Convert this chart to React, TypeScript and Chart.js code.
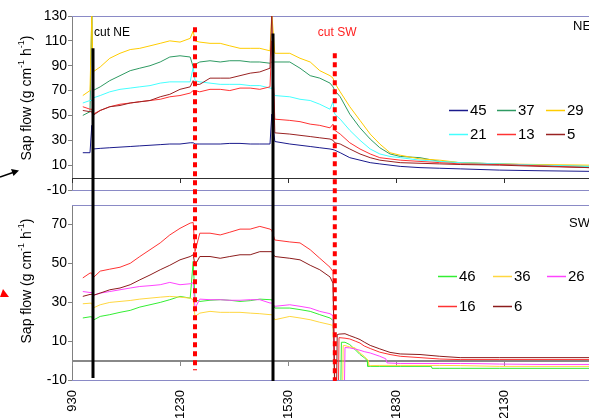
import React, { useEffect, useRef } from 'react';
import { Chart, registerables } from 'chart.js';
Chart.register(...registerables);

const FONT = "'Liberation Sans', Arial, sans-serif";

// ---- time of day (hhmm) ----
const timesNE = [948, 1000, 1003, 1005, 1017, 1033, 1050, 1107, 1123, 1140, 1157, 1213, 1230, 1247, 1252, 1255, 1303, 1320, 1337, 1353, 1410, 1427, 1443, 1500, 1503, 1508, 1533, 1550, 1607, 1623, 1640, 1645, 1648, 1657, 1713, 1730, 1747, 1803, 1820, 1837, 1910, 1943, 2017, 2123, 2230, 2352];

// ---- NE sensors (sap flow, g cm-1 h-1) ----
const ne45 = [20, 20, 42, 23, 23.5, 24, 24.5, 25, 25.5, 26, 26.5, 27, 27, 28, 28, 27, 27, 27, 27, 27.5, 27.5, 27, 27, 27, 51, 29, 27, 26, 25, 24, 23, 22.5, 22, 20, 16, 14, 12, 11, 10, 9, 8, 7.5, 7, 6, 5.5, 5];
const ne37 = [50, 53, 132, 70, 73, 78, 82, 86, 88, 90, 93, 97, 98, 97, 89, 91, 93, 94, 93, 94, 94, 93, 93, 92, 93, 93, 93, 88, 82, 80, 76, 73, 70, 65, 51, 40, 31, 24, 19, 17, 16, 13, 12, 11, 10, 9];
const ne29 = [66, 70, 132, 85, 89, 96, 100, 103, 104, 106, 108, 110, 109, 112, 118, 110, 109, 108, 108, 106, 104, 104, 104, 102, 132, 100, 100, 96, 93, 86, 82, 80, 76, 69, 57, 46, 35, 27, 20, 18, 15, 14, 12, 11, 10.5, 10];
const ne21 = [60, 62, 62, 64, 66, 69, 71, 72, 73, 74, 76, 77, 77, 77, 89, 78, 77, 76, 75, 75, 75, 74, 74, 72, 72, 66, 65, 63, 62, 59, 55, 61, 51, 47, 38, 30, 23, 19, 17, 16, 14, 13, 12, 11, 10, 9];
const ne13 = [57, 55, 55, 51, 54, 57, 59, 60, 61, 62, 63, 65, 66, 68, 70, 70, 69, 71, 71, 70, 72, 72, 71, 73, 110, 47, 46, 45, 43, 42, 40, 43, 38, 35, 28, 23, 19, 16, 15, 14, 13, 12, 11, 10.5, 9.5, 8];
const ne5 = [54, 53, 53, 50, 54, 57, 58, 60, 61, 62, 65, 67, 71, 73, 78, 75, 75, 80, 80, 80, 82, 84, 85, 88, 132, 36, 35, 34, 33, 32, 31, 30, 28, 27, 23, 19, 16, 14, 13, 12, 11.5, 11, 10.5, 10, 9, 8];
const neSeries = [ne45, ne37, ne29, ne21, ne13, ne5];
const neLabels = ['45', '37', '29', '21', '13', '5'];
const neColors = ['#1a1a8c', '#2e9a62', '#ffcc00', '#44ffff', '#ff3333', '#992222'];

// ---- SW sensors ----
const timesSW = [948, 1000, 1003, 1005, 1017, 1033, 1050, 1107, 1123, 1140, 1157, 1213, 1230, 1247, 1252, 1255, 1303, 1320, 1337, 1353, 1410, 1427, 1443, 1500, 1503, 1508, 1533, 1550, 1607, 1623, 1640, 1645,
  1648, 1651, 1652, 1654, 1655, 1658, 1659, 1701, 1702, 1704, 1705, 1713, 1722, 1730, 1737, 1742, 1743, 1744, 1745, 1747, 1803, 1813, 1815, 1820, 1837, 1910, 1929, 1930, 1943, 2017, 2050, 2123, 2230, 2352];
const sw46 = [21.9, 22.5, 22.5, 20.7, 22.7, 23.6, 24.8, 25.8, 27.5, 28.7, 29.9, 31.3, 33, 32.1, 51, 31.3, 30.4, 31, 31.3, 31, 30.4, 30.8, 31.6, 31.3, 31.3, 27, 27, 26.2, 25.3, 23.6, 21.9, 20.7,
  -15, null, null, null, null, -15, 9.4, null, null, null, 9.4, 8.2, 5.6, 3.1, 1.5, 0, -3, null, null, -3, -3, null, null, -3, -3, -3, -3, -4, -4, -4, -4, -4, -4, -4];
const sw36 = [29.2, 29.5, 29.5, 27, 28.7, 29.9, 30.4, 30.9, 31.6, 32.1, 32.6, 33, 32.6, 32.1, 31.3, 22.7, 24.4, 25.3, 24.8, 24.8, 24.8, 24.4, 24.1, 23.6, 23.6, 21, 22.7, 21.9, 21, 19.7, 18.5, 18,
  -15, null, null, null, null, null, null, -15, 7.7, null, 7.7, 7, 6.5, 3.9, 2.2, null, null, 0, -2.6, -2.6, -2.5, null, null, -2.5, -2.5, -2.5, null, null, -2.5, -2.6, -2.8, -3, -3, -3];
const sw26 = [35.5, 35, 35, 33.5, 34.7, 35.5, 36.4, 37.3, 38.1, 38.5, 39, 40.2, 39, 39.5, 40, 27, 31.6, 31.3, 31.3, 31, 31, 31.3, 31.3, 29.6, 29.6, 27.9, 28.7, 27.9, 27, 25.3, 24.1, 23,
  -15, null, null, null, null, null, null, null, null, -15, 6.7, 6.5, 5.9, 5.3, 4.6, null, null, null, null, 3.9, 2.2, 0.9, -1.2, -1.3, -1.5, -1.5, null, null, -1.5, -1.5, -1.6, -1.8, -2, -2];
const sw16 = [42.5, 45, 45, 42.5, 46, 47, 48, 50, 53.5, 57, 60.5, 64.6, 68, 70.7, 71, 56, 65.5, 65.5, 64.6, 66, 67.6, 67.6, 69, 67.6, 67, 62, 61, 60.5, 57, 52.6, 48, 45.8,
  -15, null, null, -15, 11.8, null, null, null, null, null, 11.5, 11.1, 10, 9, 7.5, null, null, null, null, 6.2, 4.3, null, null, 3.1, 2.2, 1.5, null, null, 0.8, 0.5, 0.5, 0.5, 0.5, 0.5];
const sw6 = [33, 34, 34, 33.5, 34.7, 36.4, 37.3, 39, 41.5, 44, 46.7, 49, 51.8, 53.5, 54.4, 49, 53.5, 53.5, 52.6, 53.5, 54.4, 54.4, 56, 56, 56, 53.5, 52.6, 51.8, 49, 46.7, 43, 39.8,
  -15, -15, 13.3, null, 13.6, null, null, null, null, null, 13.8, 12.8, 11.8, 10.8, 9.5, null, null, null, null, 7.8, 6, null, null, 4.2, 3.4, 3.1, null, null, 2.2, 1.5, 1.5, 1.5, 1.5, 1.5];
const swSeries = [sw46, sw36, sw26, sw16, sw6];
const swLabels = ['46', '36', '26', '16', '6'];
const swColors = ['#33ee33', '#ffd740', '#ff44ff', '#ff3333', '#8c1c1c'];

// ---- axes ----
const xTickValues = [930, 1230, 1530, 1830, 2130];
const xTickLabels = ['930', '1230', '1530', '1830', '2130'];
const neTicks = [-10, 10, 30, 50, 70, 90, 110, 130];
const swTicks = [-10, 10, 30, 50, 70];

// ---- cut markers ----
const cutNETimes = [1005, 1505];
const cutNETop = [104, 116];      // NE panel value where the line starts
const cutNEBottom = [-9, -10.5];  // SW panel value where the line ends
const cutSWTimes = [1255, 1648];
const cutSWTop = [121, 100];
const cutSWBottom = [-5, -10.5];

const toHours = (hhmm: number) => Math.floor(hhmm / 100) + (hhmm % 100) / 60;

function drawTitle(ctx: CanvasRenderingContext2D, cx: number, cy: number) {
  const parts: [string, boolean][] = [['Sap flow (g cm', false], ['-1', true], [' h', false], ['-1', true], [')', false]];
  const main = `14px ${FONT}`;
  const sup = `9px ${FONT}`;
  let total = 0;
  for (const [t, s] of parts) { ctx.font = s ? sup : main; total += ctx.measureText(t).width; }
  ctx.save();
  ctx.translate(cx, cy);
  ctx.rotate(-Math.PI / 2);
  ctx.fillStyle = '#000';
  ctx.textBaseline = 'middle';
  ctx.textAlign = 'left';
  let x = -total / 2;
  for (const [t, s] of parts) {
    ctx.font = s ? sup : main;
    ctx.fillText(t, x, s ? -5 : 0);
    x += ctx.measureText(t).width;
  }
  ctx.restore();
}

function drawLegend(ctx: CanvasRenderingContext2D, labels: string[], colors: string[], cols: number[], rows: number[]) {
  ctx.save();
  ctx.font = `15px ${FONT}`;
  ctx.textBaseline = 'middle';
  ctx.textAlign = 'left';
  labels.forEach((lab, i) => {
    const cx = cols[i % 3];
    const cy = rows[Math.floor(i / 3)];
    ctx.strokeStyle = colors[i];
    ctx.lineWidth = 1.5;
    ctx.beginPath();
    ctx.moveTo(cx, cy + 0.5);
    ctx.lineTo(cx + 19, cy + 0.5);
    ctx.stroke();
    ctx.fillStyle = '#000';
    ctx.fillText(lab, cx + 21, cy + 1);
  });
  ctx.restore();
}

const overlay = {
  id: 'overlay',
  beforeDatasetsDraw(chart: any) {
    const { ctx, chartArea, scales } = chart;
    const x = scales.x, yN = scales.yNE, yS = scales.ySW;
    const L = chartArea.left, R = chartArea.right;
    ctx.save();
    // panel frame lines
    ctx.strokeStyle = '#8a8ac6';
    ctx.lineWidth = 1;
    for (const py of [yN.top, yN.bottom, yS.top, yS.bottom]) {
      ctx.beginPath();
      ctx.moveTo(L, Math.round(py) + 0.5);
      ctx.lineTo(R, Math.round(py) + 0.5);
      ctx.stroke();
    }
    // zero axis lines with tick marks
    const zeroLine = (scale: any, color: string, w: number) => {
      const py = Math.round(scale.getPixelForValue(0));
      ctx.strokeStyle = color;
      ctx.lineWidth = w;
      ctx.beginPath();
      ctx.moveTo(L, py + (w === 1 ? 0.5 : 0));
      ctx.lineTo(R, py + (w === 1 ? 0.5 : 0));
      ctx.stroke();
      ctx.lineWidth = 1;
      for (const tv of xTickValues) {
        const px = Math.round(x.getPixelForValue(toHours(tv))) + 0.5;
        ctx.beginPath();
        ctx.moveTo(px, py);
        ctx.lineTo(px, py + 5);
        ctx.stroke();
      }
    };
    zeroLine(yN, '#303030', 1);
    zeroLine(yS, '#888888', 2);
    ctx.restore();
  },
  afterDatasetsDraw(chart: any) {
    const { ctx, scales } = chart;
    const x = scales.x, yN = scales.yNE, yS = scales.ySW;
    ctx.save();
    // black cut lines (NE)
    ctx.strokeStyle = '#000';
    ctx.lineWidth = 3;
    cutNETimes.forEach((t, i) => {
      const px = x.getPixelForValue(toHours(t));
      ctx.beginPath();
      ctx.moveTo(px, yN.getPixelForValue(cutNETop[i]));
      ctx.lineTo(px, yS.getPixelForValue(cutNEBottom[i]));
      ctx.stroke();
    });
    // red dotted cut lines (SW)
    ctx.strokeStyle = '#ff0000';
    ctx.lineWidth = 4;
    ctx.setLineDash([5, 4]);
    cutSWTimes.forEach((t, i) => {
      const px = x.getPixelForValue(toHours(t));
      ctx.beginPath();
      ctx.moveTo(px, yN.getPixelForValue(cutSWTop[i]));
      ctx.lineTo(px, yS.getPixelForValue(cutSWBottom[i]));
      ctx.stroke();
    });
    ctx.setLineDash([]);
    // labels
    ctx.font = `12px ${FONT}`;
    ctx.textBaseline = 'middle';
    ctx.textAlign = 'left';
    ctx.fillStyle = '#000';
    ctx.fillText('cut NE', x.getPixelForValue(toHours(cutNETimes[0])) + 1, 33);
    ctx.fillStyle = '#ff2020';
    ctx.fillText('cut SW', x.getPixelForValue(toHours(cutSWTimes[1])) - 17, 33);
    ctx.fillStyle = '#000';
    ctx.font = `13px ${FONT}`;
    ctx.fillText('NE', 573, 26);
    ctx.fillText('SW', 569, 223);
    // legends
    drawLegend(ctx, neLabels, neColors, [449, 497, 546], [110, 134]);
    drawLegend(ctx, swLabels, swColors, [438, 493, 547], [276, 306]);
    // axis titles
    drawTitle(ctx, 27, 98);
    drawTitle(ctx, 27, 281);
    // stray annotation marks at left edge
    ctx.strokeStyle = '#000';
    ctx.fillStyle = '#000';
    ctx.lineWidth = 1.5;
    ctx.beginPath(); ctx.moveTo(0, 177); ctx.lineTo(13, 172.5); ctx.stroke();
    ctx.beginPath(); ctx.moveTo(19, 170.5); ctx.lineTo(11, 169); ctx.lineTo(13.5, 176); ctx.closePath(); ctx.fill();
    ctx.fillStyle = '#ff0000';
    ctx.beginPath(); ctx.moveTo(0, 297); ctx.lineTo(9, 297); ctx.lineTo(3, 289); ctx.closePath(); ctx.fill();
    ctx.restore();
  },
};

const fixWidth = (s: any) => { s.width = 72; };

export default function App() {
  const ref = useRef<HTMLCanvasElement>(null);
  useEffect(() => {
    if (!ref.current) return;
    const neSets = neSeries.map((vals, i) => ({
      label: neLabels[i],
      data: timesNE.map((t, j) => ({ x: toHours(t), y: vals[j] })),
      borderColor: neColors[i],
      backgroundColor: neColors[i],
      borderWidth: 1,
      pointRadius: 0,
      yAxisID: 'yNE',
      order: -i,
    }));
    const swSets = swSeries.map((vals, i) => ({
      label: swLabels[i],
      data: timesSW.map((t, j) => ({ x: toHours(t), y: vals[j] })),
      borderColor: swColors[i],
      backgroundColor: swColors[i],
      borderWidth: 1,
      pointRadius: 0,
      spanGaps: true,
      yAxisID: 'ySW',
      order: -i,
    }));
    const yCommon = {
      type: 'linear',
      position: 'left',
      stack: 'panels',
      afterFit: fixWidth,
      grid: { drawOnChartArea: false, drawTicks: true, tickLength: 4, color: '#808080' },
      border: { display: true, color: '#808080', width: 1 },
    };
    const yTicks = { autoSkip: false, padding: 1, color: '#000', font: { family: FONT, size: 14 } };
    const chart = new Chart(ref.current, {
      type: 'line',
      data: { datasets: [...neSets, ...swSets] as any },
      options: {
        animation: false,
        responsive: false,
        devicePixelRatio: 1,
        layout: { padding: { top: 16, right: 6, left: 0, bottom: 0 } },
        plugins: { legend: { display: false }, tooltip: { enabled: false } },
        elements: { line: { tension: 0 } },
        scales: {
          x: {
            type: 'linear',
            min: toHours(930),
            max: 24,
            afterFit: (s: any) => { s.height = 60; },
            afterBuildTicks: (s: any) => { s.ticks = xTickValues.map((v) => ({ value: toHours(v) })); },
            ticks: {
              autoSkip: false,
              maxRotation: 90,
              minRotation: 90,
              padding: 2,
              color: '#000',
              font: { family: FONT, size: 13 },
              callback: (_v: any, i: number) => xTickLabels[i],
            },
            grid: { display: false },
            border: { display: false },
          },
          ySW: {
            ...yCommon,
            stackWeight: 175,
            min: -10,
            max: 80,
            afterBuildTicks: (s: any) => { s.ticks = swTicks.map((v) => ({ value: v })); },
            ticks: yTicks,
          },
          yGap: {
            type: 'linear',
            position: 'left',
            stack: 'panels',
            stackWeight: 15,
            afterFit: fixWidth,
            ticks: { display: false },
            grid: { display: false },
            border: { display: false },
          },
          yNE: {
            ...yCommon,
            stackWeight: 174,
            min: -10,
            max: 130,
            afterBuildTicks: (s: any) => { s.ticks = neTicks.map((v) => ({ value: v })); },
            ticks: yTicks,
          },
        } as any,
      },
      plugins: [overlay],
    });
    return () => chart.destroy();
  }, []);
  return (
    <div style={{ position: 'fixed', left: 0, top: 0, width: 589, height: 418, overflow: 'hidden', background: '#fff' }}>
      <canvas ref={ref} width={600} height={440} style={{ display: 'block', width: 600, height: 440 }} />
    </div>
  );
}
